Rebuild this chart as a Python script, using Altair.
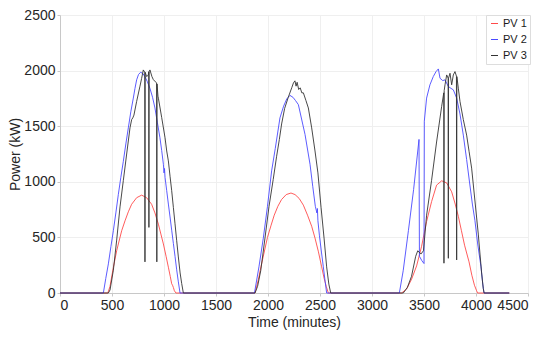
import altair as alt
import pandas as pd

series_names = ["PV 1", "PV 2", "PV 3"]
series_colors = ["#ff4a4a", "#4a4aff", "#333333"]
x_ticks = [0, 500, 1000, 1500, 2000, 2500, 3000, 3500, 4000, 4500]
y_ticks = [0, 500, 1000, 1500, 2000, 2500]

# PV 1 (red)
pv1_t = [0, 460, 481, 513, 545, 561, 593, 625, 657, 689, 737, 785, 833, 881, 913, 946, 970, 994, 1020, 1042, 1060, 1074, 1082, 1090, 1100, 1115,
         1875, 1907, 1932, 1995, 2030, 2060, 2095, 2130, 2175, 2221, 2260, 2300, 2340, 2380, 2420, 2452, 2485, 2516, 2540, 2560, 2580,
         3285, 3333, 3381, 3429, 3477, 3525, 3573, 3621, 3670, 3718, 3766, 3800, 3830, 3860, 3890, 3933, 3960, 3985, 4006, 4015, 4320]
pv1_p = [0, 0, 60, 230, 380, 441, 560, 649, 730, 798, 857, 880, 857, 798, 720, 619, 530, 441, 330, 232, 150, 83, 70, 50, 20, 0,
         0, 119, 235, 500, 610, 700, 780, 840, 885, 899, 885, 850, 790, 700, 600, 494, 370, 235, 130, 60, 0,
         0, 36, 125, 244, 420, 643, 822, 970, 1009, 990, 910, 800, 690, 560, 430, 280, 160, 70, 20, 0, 0]

# PV 2 (blue)
pv2_t = [0, 417, 440, 465, 490, 513, 537, 561, 585, 609, 633, 657, 681, 705, 721, 737, 755, 775, 795, 817, 840, 865, 890, 913, 937, 961, 978, 994, 1000, 1005, 1010, 1026, 1042, 1058, 1074, 1090, 1106, 1122, 1138, 1154,
         1870, 1913, 1955, 1995, 2035, 2070, 2115, 2150, 2180, 2211, 2240, 2265, 2292, 2356, 2404, 2430, 2455, 2470, 2475, 2480, 2494, 2515, 2532, 2550, 2564,
         3263, 3300, 3350, 3400, 3452, 3456, 3480, 3500, 3503, 3525, 3557, 3589, 3615, 3638, 3654, 3680, 3702, 3734, 3760, 3782, 3814, 3846, 3878, 3910, 3940, 3965, 3990, 4015, 4048, 4065, 4077, 4320]
pv2_p = [0, 0, 130, 262, 420, 560, 720, 887, 1040, 1185, 1340, 1485, 1630, 1753, 1840, 1917, 1965, 1985, 1975, 1946, 1900, 1840, 1760, 1664, 1530, 1396, 1280, 1158, 1080, 1120, 1040, 920, 800, 684, 565, 446, 330, 208, 100, 0,
         0, 235, 494, 780, 1098, 1300, 1575, 1680, 1745, 1777, 1760, 1730, 1694, 1426, 1158, 960, 780, 720, 760, 650, 520, 360, 235, 100, 0,
         0, 200, 560, 930, 1381, 330, 290, 265, 1545, 1753, 1872, 1946, 1990, 2015, 1931, 1910, 1917, 1857, 1840, 1827, 1753, 1610, 1420, 1200, 980, 800, 650, 450, 235, 80, 0, 0]

# PV 3 (black)
pv3_t = [0, 465, 481, 513, 545, 577, 609, 641, 673, 689, 700, 711, 737, 769, 785, 801, 815, 817, 819, 833, 849, 853, 855, 857, 865, 884, 897, 916, 929, 931, 933, 942, 946, 978, 1010, 1026, 1042, 1058, 1074, 1090, 1106, 1122, 1138, 1155, 1170, 1186,
         1875, 1900, 1930, 1971, 2010, 2050, 2083, 2109, 2131, 2160, 2195, 2230, 2245, 2259, 2270, 2280, 2295, 2310, 2325, 2340, 2365, 2388, 2420, 2452, 2480, 2510, 2539, 2564, 2585, 2603,
         3301, 3340, 3380, 3420, 3440, 3470, 3495, 3525, 3573, 3621, 3670, 3690, 3692, 3694, 3702, 3718, 3732, 3734, 3736, 3750, 3766, 3782, 3798, 3812, 3814, 3816, 3830, 3846, 3878, 3910, 3934, 3958, 3990, 4022, 4054, 4070, 4078, 4320]
pv3_p = [0, 0, 27, 205, 476, 774, 1012, 1250, 1485, 1559, 1575, 1600, 1723, 1860, 1930, 2006, 1985, 280, 1985, 1946, 1960, 1990, 590, 1990, 2006, 1946, 1920, 1900, 1890, 280, 1880, 1770, 1752, 1577, 1396, 1277, 1188, 1050, 920, 770, 622, 470, 324, 180, 86, 0,
         0, 60, 200, 494, 780, 1020, 1230, 1380, 1520, 1660, 1760, 1850, 1890, 1908, 1860, 1895, 1830, 1845, 1800, 1800, 1730, 1664, 1485, 1277, 1080, 771, 494, 235, 80, 0,
         0, 50, 150, 330, 380, 350, 380, 700, 1013, 1358, 1679, 1800, 268, 1820, 1872, 1961, 1932, 312, 1932, 1976, 1872, 1961, 1991, 1950, 297, 1946, 1842, 1723, 1560, 1420, 1270, 1123, 827, 530, 180, 40, 0, 0]

rows = []
for name, ts, ps in zip(series_names, [pv1_t, pv2_t, pv3_t], [pv1_p, pv2_p, pv3_p]):
    for t, p in zip(ts, ps):
        rows.append({"t": t, "p": p, "series": name})
df = pd.DataFrame(rows)

font = "Liberation Sans"

chart = alt.Chart(df).mark_line(strokeWidth=0.9).encode(
    x=alt.X("t:Q", scale=alt.Scale(domain=[0, 4500], nice=False),
            axis=alt.Axis(values=x_ticks, format="d", labelOverlap=False, title="Time (minutes)",
                          labelPadding=2, titlePadding=3)),
    y=alt.Y("p:Q", scale=alt.Scale(domain=[0, 2500], nice=False),
            axis=alt.Axis(values=y_ticks, format="d", labelOverlap=False, title="Power (kW)",
                          labelPadding=2, titlePadding=1)),
    color=alt.Color("series:N",
                    scale=alt.Scale(domain=series_names, range=series_colors),
                    legend=alt.Legend(title=None, orient="none", legendX=426, legendY=0,
                                      symbolType="stroke", symbolSize=49, symbolStrokeWidth=1,
                                      labelFont=font, labelFontSize=11, labelColor="#1a1a1a",
                                      labelOffset=3, rowPadding=4, padding=3,
                                      strokeColor="#dddddd", fillColor="white")),
).properties(
    width=468, height=278,
    padding={"left": 52, "top": 7, "right": 14, "bottom": 37},
    autosize=alt.AutoSizeParams(type="none"),
).configure_axis(
    labelFont=font, labelFontSize=14, labelColor="#262626",
    titleFont=font, titleFontSize=14, titleFontWeight="normal", titleColor="#262626",
    domainColor="#c8c8c8", tickColor="#c8c8c8", tickSize=3,
    gridColor="#efefef", grid=True,
).configure_view(strokeWidth=0)

chart.save("out.html", embed_options={"renderer": "svg", "actions": False})
